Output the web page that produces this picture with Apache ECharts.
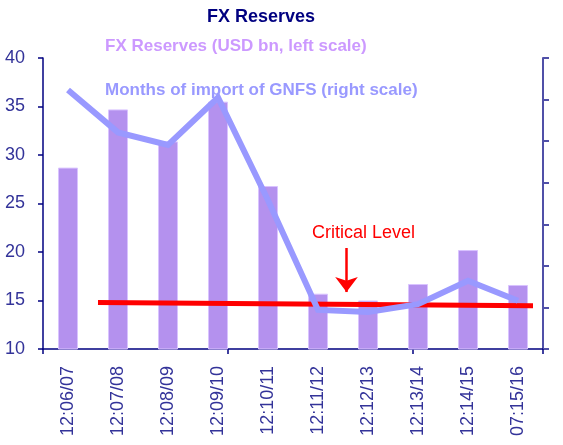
<!DOCTYPE html>
<html>
<head>
<meta charset="utf-8">
<script src="https://cdn.jsdelivr.net/npm/echarts@6/dist/echarts.min.js"></script>
<style>
  html, body { margin: 0; padding: 0; background: #fff; }
  #chart { width: 563px; height: 445px; }
</style>
</head>
<body>
<div id="chart"></div>
<script>
// categories (fiscal years)
const years = ['12:06/07', '12:07/08', '12:08/09', '12:09/10', '12:10/11',
  '12:11/12', '12:12/13', '12:13/14', '12:14/15', '07:15/16']
// FX reserves, USD bn (left scale)
const reserves = [28.7, 34.7, 31.4, 35.5, 26.8, 15.7, 15.0, 16.7, 20.2, 16.6]
// months of import of GNFS (right scale)
const importMonths = [8.23, 7.21, 6.91, 8.05, 5.58, 2.94, 2.89, 3.08, 3.64, 3.16]
// critical level line, on the hidden 0..10 x scale
const criticalX = [1.1, 9.8]
const criticalY = [3.12, 3.04]
// arrow pointing at the critical level
const arrowX = 6.07
const arrowFrom = 4.43
const arrowTo = 3.37

const navy = '#000080'
const labelColor = '#333399'

const myChart = echarts.init(document.getElementById('chart'))

const option = {
  animation: false,
  textStyle: { fontFamily: 'Liberation Sans, Arial, sans-serif' },
  title: {
    text: 'FX Reserves',
    left: 207,
    top: 8,
    padding: 0,
    textStyle: { color: navy, fontSize: 18, fontWeight: 'bold' }
  },
  legend: {
    orient: 'vertical',
    left: 100,
    top: 38,
    padding: 0,
    itemWidth: 0,
    itemHeight: 17,
    itemGap: 27,
    icon: 'none',
    z: 1,
    selectedMode: false,
    textStyle: { fontSize: 17, fontWeight: 'bold' },
    data: [
      { name: 'FX Reserves (USD bn, left scale)', textStyle: { color: '#cc99ff' } },
      { name: 'Months of import of GNFS (right scale)', textStyle: { color: '#9999ff' } }
    ]
  },
  grid: { left: 43, right: 20, top: 58, bottom: 96 },
  xAxis: [
    {
      type: 'category',
      data: years,
      axisLine: { lineStyle: { color: navy, width: 1.5 } },
      axisTick: { show: false },
      axisLabel: { rotate: 90, color: labelColor, fontSize: 18, margin: 17 }
    },
    {
      // hidden scale for the critical line; also carries the few bottom ticks
      type: 'value',
      position: 'bottom',
      min: 0,
      max: 10,
      interval: 3.7,
      axisLine: { show: false },
      axisTick: { show: true, length: 5, lineStyle: { color: navy, width: 1.5 } },
      axisLabel: { show: false },
      splitLine: { show: false }
    }
  ],
  yAxis: [
    {
      type: 'value',
      min: 10,
      max: 40,
      interval: 5,
      axisLine: { show: true, lineStyle: { color: navy, width: 1.5 } },
      axisTick: { show: true, length: 5, lineStyle: { color: navy, width: 1.5 } },
      axisLabel: { color: labelColor, fontSize: 18, margin: 18 },
      splitLine: { show: false }
    },
    {
      type: 'value',
      min: 2,
      max: 9,
      interval: 1,
      position: 'right',
      axisLine: { show: true, lineStyle: { color: '#5050a8', width: 2 } },
      axisTick: { show: true, length: 6, lineStyle: { color: '#5050a8', width: 2 } },
      axisLabel: { show: false },
      splitLine: { show: false }
    }
  ],
  series: [
    {
      name: 'FX Reserves (USD bn, left scale)',
      type: 'bar',
      data: reserves,
      barWidth: 20,
      itemStyle: { color: '#b491ee', borderColor: '#d9c3ff', borderWidth: 1 },
      z: 2
    },
    {
      name: 'Critical Level',
      type: 'line',
      xAxisIndex: 1,
      yAxisIndex: 1,
      data: criticalX.map((x, i) => [x, criticalY[i]]),
      symbol: 'none',
      lineStyle: { color: '#ff0000', width: 5 },
      z: 3,
      markLine: {
        silent: true,
        symbol: ['none', 'arrow'],
        symbolSize: [17, 15],
        lineStyle: { color: '#ff0000', width: 2.5, type: 'solid' },
        label: {
          show: true,
          position: 'start',
          formatter: 'Critical Level',
          color: '#ff0000',
          fontSize: 18,
          distance: 6,
          offset: [17, 0]
        },
        data: [[
          { coord: [arrowX, arrowFrom] },
          { coord: [arrowX, arrowTo] }
        ]]
      }
    },
    {
      name: 'Months of import of GNFS (right scale)',
      type: 'line',
      yAxisIndex: 1,
      data: importMonths,
      symbol: 'none',
      lineStyle: { color: '#9999ff', width: 6, join: 'miter' },
      z: 4
    }
  ]
}

myChart.setOption(option)
</script>
</body>
</html>
